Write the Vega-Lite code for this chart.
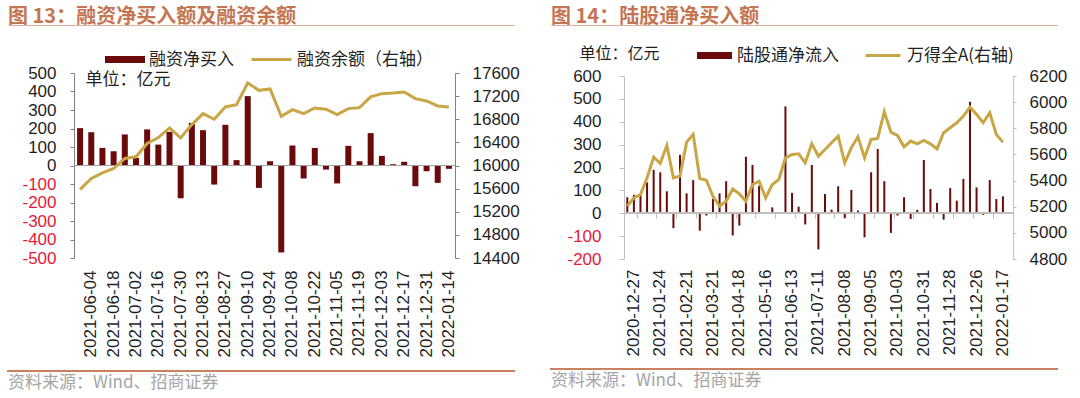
{
  "$schema": "https://vega.github.io/schema/vega-lite/v6.json",
  "background": "white",
  "padding": {"left": 7, "top": 6, "right": 0, "bottom": 0},
  "config": {
    "view": {"stroke": null},
    "font": "Noto Sans CJK SC",
    "axis": {"grid": false, "labelOverlap": false, "labelFont": "Liberation Sans", "labelFontSize": 17, "labelColor": "#1F1F1F", "titleFont": "Noto Sans CJK SC"},
    "legend": {"labelFont": "Noto Sans CJK SC", "labelFontSize": 17, "labelColor": "#1F1F1F", "padding": 0},
    "title": {"font": "Noto Sans CJK SC"}
  },
  "datasets": {
    "margin": [
      {"date": "2021-05-28", "net": 202, "bal": 15586},
      {"date": "2021-06-04", "net": 180, "bal": 15776},
      {"date": "2021-06-11", "net": 95, "bal": 15873},
      {"date": "2021-06-18", "net": 77, "bal": 15948},
      {"date": "2021-06-25", "net": 168, "bal": 16121},
      {"date": "2021-07-02", "net": 41, "bal": 16150},
      {"date": "2021-07-09", "net": 195, "bal": 16380},
      {"date": "2021-07-16", "net": 113, "bal": 16483},
      {"date": "2021-07-23", "net": 182, "bal": 16650},
      {"date": "2021-07-30", "net": -177, "bal": 16478},
      {"date": "2021-08-06", "net": 230, "bal": 16708},
      {"date": "2021-08-13", "net": 191, "bal": 16898},
      {"date": "2021-08-20", "net": -103, "bal": 16800},
      {"date": "2021-08-27", "net": 220, "bal": 17013},
      {"date": "2021-09-03", "net": 29, "bal": 17053},
      {"date": "2021-09-10", "net": 375, "bal": 17427},
      {"date": "2021-09-17", "net": -121, "bal": 17300},
      {"date": "2021-09-24", "net": 23, "bal": 17325},
      {"date": "2021-10-01", "net": -470, "bal": 16852},
      {"date": "2021-10-08", "net": 108, "bal": 16967},
      {"date": "2021-10-15", "net": -70, "bal": 16898},
      {"date": "2021-10-22", "net": 95, "bal": 16996},
      {"date": "2021-10-29", "net": -22, "bal": 16973},
      {"date": "2021-11-05", "net": -97, "bal": 16880},
      {"date": "2021-11-12", "net": 106, "bal": 16984},
      {"date": "2021-11-19", "net": 23, "bal": 17001},
      {"date": "2021-11-26", "net": 175, "bal": 17186},
      {"date": "2021-12-03", "net": 52, "bal": 17243},
      {"date": "2021-12-10", "net": 7, "bal": 17254},
      {"date": "2021-12-17", "net": 20, "bal": 17272},
      {"date": "2021-12-24", "net": -112, "bal": 17157},
      {"date": "2021-12-31", "net": -31, "bal": 17117},
      {"date": "2022-01-07", "net": -94, "bal": 17030},
      {"date": "2022-01-14", "net": -18, "bal": 17013}
    ],
    "north": [
      {"date": "2020-12-20", "flow": 70, "idx": 5204},
      {"date": "2020-12-27", "flow": 80, "idx": 5268},
      {"date": "2021-01-03", "flow": 84, "idx": 5293},
      {"date": "2021-01-10", "flow": 135, "idx": 5421},
      {"date": "2021-01-17", "flow": 190, "idx": 5579},
      {"date": "2021-01-24", "flow": 179, "idx": 5531},
      {"date": "2021-01-31", "flow": 96, "idx": 5669},
      {"date": "2021-02-07", "flow": -65, "idx": 5421},
      {"date": "2021-02-14", "flow": 255, "idx": 5434},
      {"date": "2021-02-21", "flow": 87, "idx": 5694},
      {"date": "2021-02-28", "flow": 145, "idx": 5753},
      {"date": "2021-03-07", "flow": -76, "idx": 5416},
      {"date": "2021-03-14", "flow": -10, "idx": 5403},
      {"date": "2021-03-21", "flow": 63, "idx": 5280},
      {"date": "2021-03-28", "flow": 87, "idx": 5204},
      {"date": "2021-04-04", "flow": 140, "idx": 5242},
      {"date": "2021-04-11", "flow": -97, "idx": 5336},
      {"date": "2021-04-18", "flow": -54, "idx": 5298},
      {"date": "2021-04-25", "flow": 247, "idx": 5242},
      {"date": "2021-05-02", "flow": 211, "idx": 5370},
      {"date": "2021-05-09", "flow": 121, "idx": 5395},
      {"date": "2021-05-16", "flow": 0, "idx": 5268},
      {"date": "2021-05-23", "flow": 26, "idx": 5370},
      {"date": "2021-05-30", "flow": 0, "idx": 5408},
      {"date": "2021-06-06", "flow": 467, "idx": 5574},
      {"date": "2021-06-13", "flow": 89, "idx": 5600},
      {"date": "2021-06-20", "flow": 29, "idx": 5605},
      {"date": "2021-06-27", "flow": -49, "idx": 5536},
      {"date": "2021-07-04", "flow": 211, "idx": 5681},
      {"date": "2021-07-11", "flow": -158, "idx": 5587},
      {"date": "2021-07-18", "flow": 84, "idx": 5638},
      {"date": "2021-07-25", "flow": 16, "idx": 5689},
      {"date": "2021-08-01", "flow": 118, "idx": 5740},
      {"date": "2021-08-08", "flow": -22, "idx": 5536},
      {"date": "2021-08-15", "flow": 102, "idx": 5651},
      {"date": "2021-08-22", "flow": 12, "idx": 5735},
      {"date": "2021-08-29", "flow": -105, "idx": 5574},
      {"date": "2021-09-05", "flow": 179, "idx": 5715},
      {"date": "2021-09-12", "flow": 281, "idx": 5722},
      {"date": "2021-09-19", "flow": 140, "idx": 5927},
      {"date": "2021-09-26", "flow": -86, "idx": 5771},
      {"date": "2021-10-03", "flow": -10, "idx": 5745},
      {"date": "2021-10-10", "flow": 70, "idx": 5658},
      {"date": "2021-10-17", "flow": -25, "idx": 5702},
      {"date": "2021-10-24", "flow": 15, "idx": 5681},
      {"date": "2021-10-31", "flow": 233, "idx": 5707},
      {"date": "2021-11-07", "flow": 106, "idx": 5681},
      {"date": "2021-11-14", "flow": 45, "idx": 5643},
      {"date": "2021-11-21", "flow": -28, "idx": 5766},
      {"date": "2021-11-28", "flow": 110, "idx": 5804},
      {"date": "2021-12-05", "flow": 55, "idx": 5842},
      {"date": "2021-12-12", "flow": 150, "idx": 5893},
      {"date": "2021-12-19", "flow": 487, "idx": 5962},
      {"date": "2021-12-26", "flow": 113, "idx": 5906},
      {"date": "2022-01-02", "flow": -7, "idx": 5842},
      {"date": "2022-01-09", "flow": 145, "idx": 5919},
      {"date": "2022-01-16", "flow": 62, "idx": 5753},
      {"date": "2022-01-17", "flow": 74, "idx": 5694}
    ]
  },
  "spacing": 30,
  "resolve": {"scale": {"fill": "independent", "stroke": "independent"}},
  "hconcat": [
    {
      "spacing": 13,
      "resolve": {"scale": {"fill": "independent", "stroke": "independent"}},
      "vconcat": [
        {
          "spacing": 23,
          "resolve": {"scale": {"fill": "independent", "stroke": "independent"}},
          "vconcat": [
            {
              "width": 506, "height": 0.001,
              "view": {"stroke": "#DDB09A", "strokeWidth": 1},
              "data": {"values": []},
              "mark": "rule",
              "encoding": {},
              "title": {"text": "图 13：融资净买入额及融资余额", "anchor": "start", "fontSize": 20, "fontWeight": "bold", "color": "#C47652", "offset": -2}
            },
            {
              "spacing": 12,
              "resolve": {"scale": {"fill": "independent", "stroke": "independent"}},
              "hconcat": [
                {
                  "width": 1, "height": 1,
                  "data": {"values": []},
                  "mark": "rule",
                  "encoding": {}
                },
                {
                  "width": 381, "height": 185,
                  "data": {"name": "margin"},
                  "resolve": {"scale": {"y": "independent"}},
                  "layer": [
                    {
                      "layer": [
                        {
                          "mark": {"type": "bar", "width": 6},
                          "encoding": {
                            "x": {"field": "date", "type": "ordinal", "sort": null,
                              "scale": {"paddingInner": 0.45, "paddingOuter": 0.27},
                              "axis": {"title": null, "labelAngle": -90, "ticks": false, "domain": false, "labelPadding": 12, "labelOverlap": false,
                                "values": ["2021-06-04","2021-06-18","2021-07-02","2021-07-16","2021-07-30","2021-08-13","2021-08-27","2021-09-10","2021-09-24","2021-10-08","2021-10-22","2021-11-05","2021-11-19","2021-12-03","2021-12-17","2021-12-31","2022-01-14"]}},
                            "y": {"field": "net", "type": "quantitative",
                              "scale": {"domain": [-500, 500], "nice": false},
                              "axis": {"values": [-500,-400,-300,-200,-100,0,100,200,300,400,500], "tickCount": 20, "labelExpr": "'' + datum.value", "labelOverlap": false,
                                "domainColor": "#808080", "tickColor": "#808080", "tickSize": 4, "labelPadding": 14,
                                "labelColor": {"expr": "datum.value < 0 ? '#E8173A' : '#1F1F1F'"},
                                "title": "单位：亿元", "titleAngle": 0, "titleX": 11, "titleY": 6, "titleAlign": "left", "titleBaseline": "middle",
                                "titleFontSize": 17, "titleFontWeight": "normal", "titleColor": "#1F1F1F"}},
                            "fill": {"datum": "融资净买入", "scale": {"range": ["#6B0A0A"]},
                              "legend": {"title": null, "orient": "none", "legendX": 31, "legendY": -22, "clipHeight": 17,
                                "symbolType": "M-1,-0.18H1V0.18H-1Z", "symbolSize": 1600, "symbolStrokeWidth": 0, "labelOffset": 4}}
                          }
                        },
                        {
                          "mark": {"type": "rule", "color": "#A0A0A0", "strokeWidth": 1},
                          "encoding": {"y": {"datum": 0}}
                        }
                      ]
                    },
                    {
                      "mark": {"type": "line", "strokeWidth": 3},
                      "encoding": {
                        "x": {"field": "date", "type": "ordinal", "sort": null},
                        "y": {"field": "bal", "type": "quantitative",
                          "scale": {"domain": [14400, 17600], "nice": false},
                          "axis": {"orient": "right", "title": null, "format": "d", "tickCount": 20, "labelOverlap": false, "values": [14400,14800,15200,15600,16000,16400,16800,17200,17600],
                            "domainColor": "#808080", "tickColor": "#808080", "tickSize": 4, "labelPadding": 13}},
                        "stroke": {"datum": "融资余额（右轴）", "scale": {"range": ["#C9A645"]},
                          "legend": {"title": null, "orient": "none", "legendX": 176, "legendY": -22, "clipHeight": 17,
                            "symbolType": "stroke", "symbolSize": 1600, "symbolStrokeWidth": 3, "labelOffset": 4}}
                      }
                    }
                  ]
                }
              ]
            }
          ]
        },
        {
          "width": 506, "height": 0.001,
          "view": {"stroke": "#C8825F", "strokeWidth": 2},
          "data": {"values": []},
          "mark": "rule",
          "encoding": {},
          "title": {"text": "资料来源：Wind、招商证券", "orient": "bottom", "anchor": "start", "fontSize": 17, "fontWeight": "normal", "color": "#A5A5A5", "offset": 4}
        }
      ]
    },
    {
      "spacing": 12,
      "resolve": {"scale": {"fill": "independent", "stroke": "independent"}},
      "vconcat": [
        {
          "spacing": 17,
          "resolve": {"scale": {"fill": "independent", "stroke": "independent"}},
          "vconcat": [
            {
              "width": 506, "height": 0.001,
              "view": {"stroke": "#DDB09A", "strokeWidth": 1},
              "data": {"values": []},
              "mark": "rule",
              "encoding": {},
              "title": {"text": "图 14：陆股通净买入额", "anchor": "start", "fontSize": 20, "fontWeight": "bold", "color": "#C47652", "offset": -2}
            },
            {
              "spacing": 14,
              "resolve": {"scale": {"fill": "independent", "stroke": "independent"}},
              "hconcat": [
                {
                  "width": 1, "height": 1,
                  "data": {"values": []},
                  "mark": "rule",
                  "encoding": {}
                },
                {
                  "width": 389, "height": 183,
                  "data": {"name": "north"},
                  "resolve": {"scale": {"y": "independent"}, "axis": {"x": "independent"}},
                  "layer": [
                    {
                      "layer": [
                        {
                          "mark": {"type": "bar", "width": 2},
                          "encoding": {
                            "x": {"field": "date", "type": "ordinal", "sort": null,
                              "scale": {"paddingInner": 0, "paddingOuter": 0.515, "align": 0},
                              "axis": {"title": null, "labelAngle": -90, "ticks": false, "domain": false, "labelPadding": 10, "labelOverlap": false,
                                "values": ["2020-12-27","2021-01-24","2021-02-21","2021-03-21","2021-04-18","2021-05-16","2021-06-13","2021-07-11","2021-08-08","2021-09-05","2021-10-03","2021-10-31","2021-11-28","2021-12-26","2022-01-17"]}},
                            "y": {"field": "flow", "type": "quantitative",
                              "scale": {"domain": [-200, 600], "nice": false},
                              "axis": {"values": [-200,-100,0,100,200,300,400,500,600], "tickCount": 20, "labelExpr": "'' + datum.value", "labelOverlap": false,
                                "domainColor": "#BFBFBF", "tickColor": "#BFBFBF", "tickSize": 5, "labelPadding": 18,
                                "labelColor": {"expr": "datum.value < 0 ? '#E8173A' : '#1F1F1F'"},
                                "title": "单位：亿元", "titleAngle": 0, "titleX": -45, "titleY": -23, "titleAlign": "left", "titleBaseline": "middle",
                                "titleFontSize": 16, "titleFontWeight": "normal", "titleColor": "#1F1F1F"}},
                            "fill": {"datum": "陆股通净流入", "scale": {"range": ["#6B0A0A"]},
                              "legend": {"title": null, "orient": "none", "legendX": 73, "legendY": -29, "clipHeight": 17,
                                "symbolType": "M-1,-0.2H1V0.2H-1Z", "symbolSize": 1225, "symbolStrokeWidth": 0, "labelOffset": 5}}
                          }
                        },
                        {
                          "mark": {"type": "rule", "color": "#BFBFBF", "strokeWidth": 1},
                          "encoding": {"y": {"datum": 0}}
                        }
                      ]
                    },
                    {
                      "mark": {"type": "line", "strokeWidth": 3},
                      "encoding": {
                        "x": {"field": "date", "type": "ordinal", "sort": null,
                          "axis": {"orient": "bottom", "offset": -45.75, "labels": false, "domain": false, "title": null,
                            "ticks": true, "tickSize": 5, "tickColor": "#BFBFBF", "bandPosition": 1,
                            "values": ["2020-12-27","2021-01-17","2021-02-07","2021-02-28","2021-03-21","2021-04-11","2021-05-02","2021-05-23","2021-06-13","2021-07-04","2021-07-25","2021-08-15","2021-09-05","2021-09-26","2021-10-17","2021-11-07","2021-11-28","2021-12-19","2022-01-09"]}},
                        "y": {"field": "idx", "type": "quantitative",
                          "scale": {"domain": [4800, 6200], "nice": false},
                          "axis": {"orient": "right", "title": null, "format": "d", "tickCount": 20, "labelOverlap": false, "values": [4800,5000,5200,5400,5600,5800,6000,6200],
                            "domainColor": "#BFBFBF", "tickColor": "#BFBFBF", "tickSize": 3, "labelPadding": 13}},
                        "stroke": {"datum": "万得全A(右轴)", "scale": {"range": ["#C9A645"]},
                          "legend": {"title": null, "orient": "none", "legendX": 240, "legendY": -29, "clipHeight": 17,
                            "symbolType": "stroke", "symbolSize": 1225, "symbolStrokeWidth": 3, "labelOffset": 5}}
                      }
                    }
                  ]
                }
              ]
            }
          ]
        },
        {
          "width": 506, "height": 0.001,
          "view": {"stroke": "#C8825F", "strokeWidth": 2},
          "data": {"values": []},
          "mark": "rule",
          "encoding": {},
          "title": {"text": "资料来源：Wind、招商证券", "orient": "bottom", "anchor": "start", "fontSize": 17, "fontWeight": "normal", "color": "#A5A5A5", "offset": 4}
        }
      ]
    }
  ]
}
